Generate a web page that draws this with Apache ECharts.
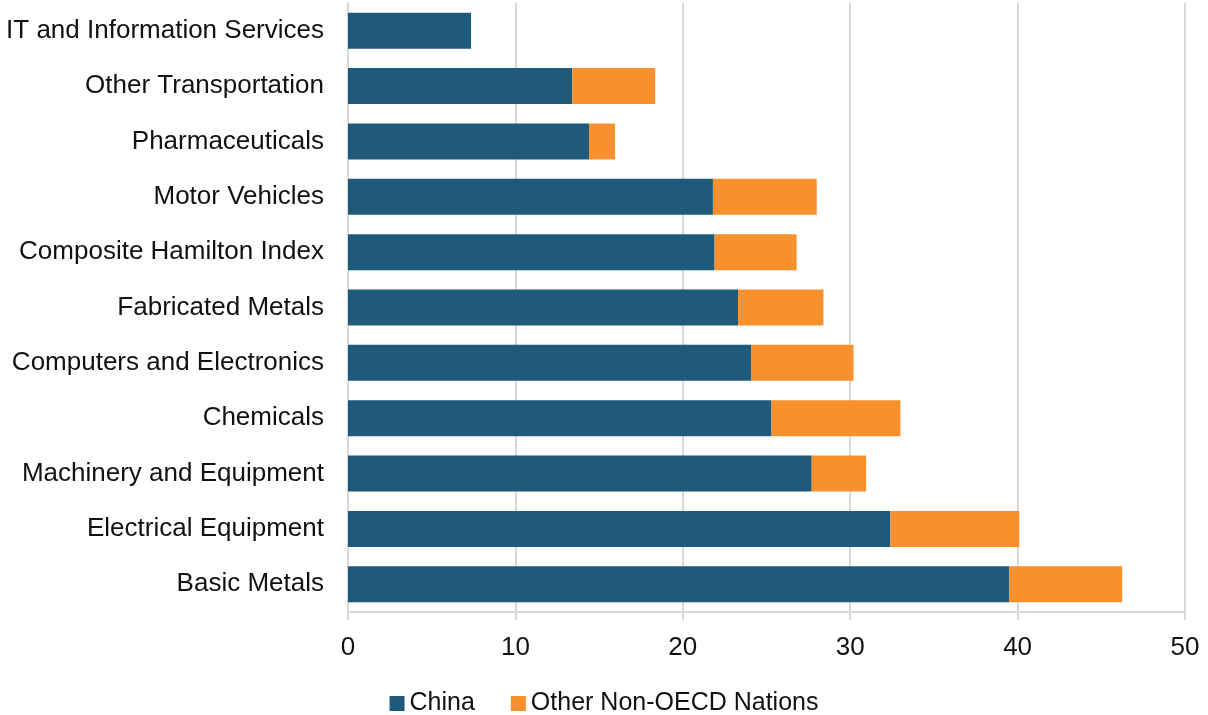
<!DOCTYPE html>
<html><head><meta charset="utf-8">
<script src="https://cdn.jsdelivr.net/npm/echarts@6/dist/echarts.min.js"></script>
<style>html,body{margin:0;padding:0;background:#fff}#c{width:1208px;height:715px}</style>
</head><body><div id="c"></div>
<script>
const categories = ["Basic Metals","Electrical Equipment","Machinery and Equipment","Chemicals","Computers and Electronics","Fabricated Metals","Composite Hamilton Index","Motor Vehicles","Pharmaceuticals","Other Transportation","IT and Information Services"];
const china = [39.5,32.4,27.7,25.3,24.1,23.3,21.9,21.8,14.4,13.4,7.35];
const otherNonOECD = [6.75,7.7,3.25,7.7,6.1,5.1,4.9,6.2,1.55,4.95,0];
const xTicks = [0,10,20,30,40,50];
const chart = echarts.init(document.getElementById('c'));
const font = "'Liberation Sans', Arial, sans-serif";
chart.setOption({
  animation:false,
  grid:{left:348,right:23,top:3,bottom:103,containLabel:false},
  legend:{top:686,left:'center',itemWidth:15,itemHeight:15,itemGap:36,icon:'rect',
    textStyle:{fontFamily:font,fontSize:25,color:'#111',padding:[3,0,0,0]},data:['China','Other Non-OECD Nations']},
  xAxis:{type:'value',min:xTicks[0],max:xTicks[xTicks.length-1],interval:10,
    axisLine:{show:true,lineStyle:{color:'#d9d9d9',width:2}},
    axisTick:{show:true,length:8,lineStyle:{color:'#d9d9d9',width:2}},
    splitLine:{lineStyle:{color:'#d9d9d9',width:2}},
    axisLabel:{fontFamily:font,fontSize:26,color:'#111',margin:23}},
  yAxis:{type:'category',data:categories,
    axisLine:{show:true,lineStyle:{color:'#d9d9d9',width:2}},
    axisTick:{show:false},
    axisLabel:{fontFamily:font,fontSize:26,color:'#111',margin:24,padding:[4,0,0,0]}},
  series:[
    {name:'China',type:'bar',stack:'a',data:china,barWidth:'65%',itemStyle:{color:'#1F5A7A'}},
    {name:'Other Non-OECD Nations',type:'bar',stack:'a',data:otherNonOECD,barWidth:'65%',itemStyle:{color:'#F7902D'}}
  ]
});
</script></body></html>
